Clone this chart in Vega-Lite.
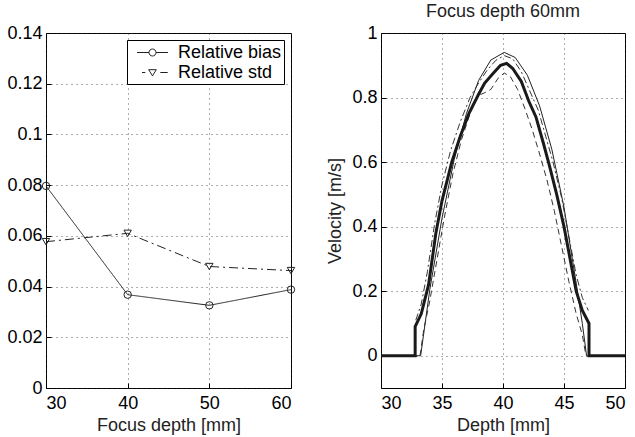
{
  "$schema": "https://vega.github.io/schema/vega-lite/v6.json",
  "background": "white",
  "padding": {"left": 6, "top": 2, "right": 1, "bottom": 0},
  "bounds": "flush",
  "spacing": 90,
  "config": {
    "font": "Liberation Sans",
    "view": {"stroke": "black", "strokeWidth": 1},
    "axis": {
      "labelFont": "Liberation Sans",
      "titleFont": "Liberation Sans",
      "labelFontSize": 18,
      "titleFontSize": 18,
      "titleFontWeight": "normal",
      "labelColor": "black",
      "titleColor": "#222",
      "domain": false,
      "tickColor": "black",
      "tickSize": -5,
      "grid": true,
      "gridColor": "#333",
      "gridDash": [1, 4],
      "gridOpacity": 0.8
    },
    "title": {"font": "Liberation Sans", "fontSize": 18, "fontWeight": "normal", "color": "#222"}
  },
  "datasets": {
    "summary": [
      {"focus": 30, "series": "Relative bias", "value": 0.0797},
      {"focus": 40, "series": "Relative bias", "value": 0.0368},
      {"focus": 50, "series": "Relative bias", "value": 0.0326},
      {"focus": 60, "series": "Relative bias", "value": 0.0388},
      {"focus": 30, "series": "Relative std", "value": 0.0577},
      {"focus": 40, "series": "Relative std", "value": 0.061},
      {"focus": 50, "series": "Relative std", "value": 0.0479},
      {"focus": 60, "series": "Relative std", "value": 0.0463}
    ],
    "profile": [
      {"series": "true", "depth": 30, "v": 0},
      {"series": "true", "depth": 33.25, "v": 0},
      {"series": "true", "depth": 34, "v": 0.205},
      {"series": "true", "depth": 35, "v": 0.426},
      {"series": "true", "depth": 36, "v": 0.608},
      {"series": "true", "depth": 37, "v": 0.75},
      {"series": "true", "depth": 38, "v": 0.853},
      {"series": "true", "depth": 39, "v": 0.916},
      {"series": "true", "depth": 40.1, "v": 0.94},
      {"series": "true", "depth": 41, "v": 0.924},
      {"series": "true", "depth": 42, "v": 0.869},
      {"series": "true", "depth": 43, "v": 0.774},
      {"series": "true", "depth": 44, "v": 0.64},
      {"series": "true", "depth": 45, "v": 0.46},
      {"series": "true", "depth": 46, "v": 0.225},
      {"series": "true", "depth": 46.5, "v": 0.1},
      {"series": "true", "depth": 46.85, "v": 0},
      {"series": "true", "depth": 50, "v": 0},

      {"series": "mean", "depth": 30, "v": 0},
      {"series": "mean", "depth": 32.8, "v": 0},
      {"series": "mean", "depth": 32.8, "v": 0.09},
      {"series": "mean", "depth": 33.3, "v": 0.13},
      {"series": "mean", "depth": 33.9, "v": 0.22},
      {"series": "mean", "depth": 34.5, "v": 0.38},
      {"series": "mean", "depth": 35.0, "v": 0.48},
      {"series": "mean", "depth": 35.8, "v": 0.6},
      {"series": "mean", "depth": 36.5, "v": 0.68},
      {"series": "mean", "depth": 37.2, "v": 0.75},
      {"series": "mean", "depth": 38.0, "v": 0.81},
      {"series": "mean", "depth": 38.5, "v": 0.845},
      {"series": "mean", "depth": 39.2, "v": 0.875},
      {"series": "mean", "depth": 39.8, "v": 0.9},
      {"series": "mean", "depth": 40.3, "v": 0.906},
      {"series": "mean", "depth": 40.8, "v": 0.89},
      {"series": "mean", "depth": 41.5, "v": 0.85},
      {"series": "mean", "depth": 42.1, "v": 0.79},
      {"series": "mean", "depth": 42.7, "v": 0.74},
      {"series": "mean", "depth": 43.3, "v": 0.66},
      {"series": "mean", "depth": 43.8, "v": 0.59},
      {"series": "mean", "depth": 44.4, "v": 0.5},
      {"series": "mean", "depth": 45.0, "v": 0.4},
      {"series": "mean", "depth": 45.5, "v": 0.3},
      {"series": "mean", "depth": 46.0, "v": 0.2},
      {"series": "mean", "depth": 46.5, "v": 0.14},
      {"series": "mean", "depth": 47.05, "v": 0.1},
      {"series": "mean", "depth": 47.05, "v": 0},
      {"series": "mean", "depth": 50, "v": 0},

      {"series": "upper", "depth": 32.85, "v": 0.11},
      {"series": "upper", "depth": 33.3, "v": 0.16},
      {"series": "upper", "depth": 33.8, "v": 0.26},
      {"series": "upper", "depth": 34.4, "v": 0.41},
      {"series": "upper", "depth": 35.0, "v": 0.53},
      {"series": "upper", "depth": 35.7, "v": 0.635},
      {"series": "upper", "depth": 36.5, "v": 0.725},
      {"series": "upper", "depth": 37.3, "v": 0.8},
      {"series": "upper", "depth": 38.0, "v": 0.845},
      {"series": "upper", "depth": 38.7, "v": 0.885},
      {"series": "upper", "depth": 39.4, "v": 0.915},
      {"series": "upper", "depth": 40.1, "v": 0.93},
      {"series": "upper", "depth": 40.8, "v": 0.92},
      {"series": "upper", "depth": 41.5, "v": 0.88},
      {"series": "upper", "depth": 42.2, "v": 0.82},
      {"series": "upper", "depth": 42.9, "v": 0.76},
      {"series": "upper", "depth": 43.5, "v": 0.68},
      {"series": "upper", "depth": 44.1, "v": 0.6},
      {"series": "upper", "depth": 44.8, "v": 0.49},
      {"series": "upper", "depth": 45.4, "v": 0.37},
      {"series": "upper", "depth": 46.0, "v": 0.25},
      {"series": "upper", "depth": 46.5, "v": 0.18},
      {"series": "upper", "depth": 47.0, "v": 0.14},

      {"series": "lower", "depth": 33.2, "v": 0},
      {"series": "lower", "depth": 33.5, "v": 0.08},
      {"series": "lower", "depth": 34.0, "v": 0.17},
      {"series": "lower", "depth": 34.6, "v": 0.3},
      {"series": "lower", "depth": 35.2, "v": 0.43},
      {"series": "lower", "depth": 35.9, "v": 0.565},
      {"series": "lower", "depth": 36.6, "v": 0.67},
      {"series": "lower", "depth": 37.3, "v": 0.75},
      {"series": "lower", "depth": 37.9, "v": 0.805},
      {"series": "lower", "depth": 38.5, "v": 0.815},
      {"series": "lower", "depth": 39.0, "v": 0.825},
      {"series": "lower", "depth": 39.6, "v": 0.86},
      {"series": "lower", "depth": 40.1, "v": 0.876},
      {"series": "lower", "depth": 40.6, "v": 0.865},
      {"series": "lower", "depth": 41.2, "v": 0.825},
      {"series": "lower", "depth": 41.8, "v": 0.765},
      {"series": "lower", "depth": 42.4, "v": 0.7},
      {"series": "lower", "depth": 43.0, "v": 0.625},
      {"series": "lower", "depth": 43.6, "v": 0.545},
      {"series": "lower", "depth": 44.2, "v": 0.45},
      {"series": "lower", "depth": 44.8, "v": 0.34},
      {"series": "lower", "depth": 45.4, "v": 0.23},
      {"series": "lower", "depth": 46.0, "v": 0.13},
      {"series": "lower", "depth": 46.5, "v": 0.065},
      {"series": "lower", "depth": 46.8, "v": 0}
    ]
  },
  "hconcat": [
    {
      "width": 245,
      "height": 355,
      "data": {"name": "summary"},
      "encoding": {
        "x": {
          "field": "focus", "type": "quantitative",
          "scale": {"domain": [30, 60], "nice": false, "zero": false},
          "axis": {"values": [30, 40, 50, 60], "title": "Focus depth [mm]", "labelPadding": 11, "titlePadding": 4}
        },
        "y": {
          "field": "value", "type": "quantitative",
          "scale": {"domain": [0, 0.14], "nice": false},
          "axis": {"values": [0, 0.02, 0.04, 0.06, 0.08, 0.1, 0.12, 0.14], "format": "~g", "title": null, "labelPadding": 9}
        }
      },
      "layer": [
        {
          "mark": {"type": "line", "color": "#222", "strokeWidth": 1},
          "encoding": {
            "detail": {"field": "series"},
            "strokeDash": {
              "field": "series", "type": "nominal",
              "scale": {"domain": ["Relative bias", "Relative std"], "range": [[1, 0], [9, 4, 2, 4]]},
              "legend": null
            }
          }
        },
        {
          "mark": {"type": "point", "filled": false, "color": "#222", "size": 55, "strokeWidth": 1, "opacity": 1},
          "encoding": {
            "shape": {
              "field": "series", "type": "nominal",
              "scale": {"domain": ["Relative bias", "Relative std"], "range": ["circle", "triangle-down"]},
              "legend": null
            }
          }
        },
        {
          "mark": {"type": "point", "filled": false, "color": "#222", "opacity": 0},
          "encoding": {
            "shape": {
              "field": "series", "type": "nominal",
              "scale": {
                "domain": ["Relative bias", "Relative std"],
                "range": [
                  "M-1.55,0L-0.35,0M0.35,0L1.55,0M0.35,0A0.35,0.35,0,1,1,-0.35,0A0.35,0.35,0,1,1,0.35,0",
                  "M-1.05,0L-0.72,0M-0.38,-0.28L0.38,-0.28L0,0.34ZM0.78,0L1.52,0"
                ]
              },
              "legend": {
                "title": null,
                "orient": "top-right",
                "offset": 7,
                "strokeColor": "black",
                "fillColor": "white",
                "padding": 2,
                "symbolSize": 400,
                "symbolOffset": 13,
                "labelOffset": 15,
                "symbolOpacity": 1,
                "symbolStrokeColor": "#222",
                "symbolFillColor": "white",
                "symbolStrokeWidth": 1,
                "labelFont": "Liberation Sans",
                "labelFontSize": 18,
                "labelColor": "black",
                "rowPadding": 0
              }
            }
          }
        }
      ],
      "resolve": {"scale": {"shape": "independent"}, "legend": {"shape": "independent"}}
    },
    {
      "width": 244,
      "height": 355,
      "title": {"text": "Focus depth 60mm", "offset": 3},
      "data": {"name": "profile"},
      "encoding": {
        "x": {
          "field": "depth", "type": "quantitative",
          "scale": {"domain": [30, 50], "nice": false, "zero": false},
          "axis": {"values": [30, 35, 40, 45, 50], "title": "Depth [mm]", "labelPadding": 11, "titlePadding": 4}
        },
        "y": {
          "field": "v", "type": "quantitative",
          "scale": {"domain": [-0.1, 1], "nice": false},
          "axis": {"values": [0, 0.2, 0.4, 0.6, 0.8, 1], "format": "~g", "title": "Velocity [m/s]", "titleFontSize": 18, "labelPadding": 9, "titlePadding": 7}
        }
      },
      "layer": [
        {
          "transform": [{"filter": "datum.series === 'true'"}],
          "mark": {"type": "line", "color": "#222", "strokeWidth": 1}
        },
        {
          "transform": [{"filter": "datum.series === 'lower'"}],
          "mark": {"type": "line", "color": "#333", "strokeWidth": 1, "strokeDash": [6, 4]}
        },
        {
          "transform": [{"filter": "datum.series === 'upper'"}],
          "mark": {"type": "line", "color": "#333", "strokeWidth": 1, "strokeDash": [7, 3, 2, 3]}
        },
        {
          "transform": [{"filter": "datum.series === 'mean'"}],
          "mark": {"type": "line", "color": "#1a1a1a", "strokeWidth": 3}
        }
      ]
    }
  ]
}
